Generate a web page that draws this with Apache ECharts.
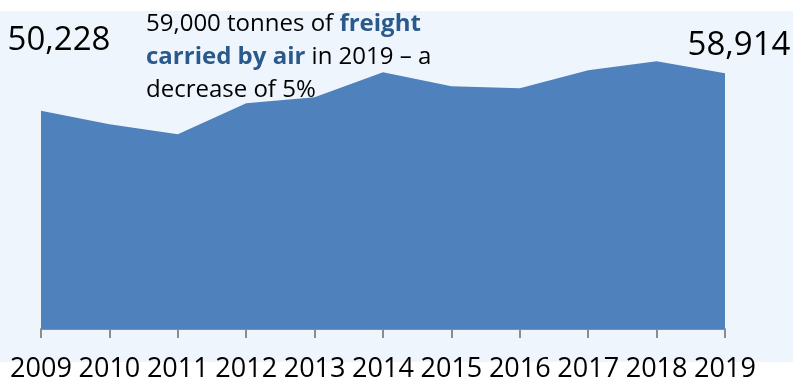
<!DOCTYPE html>
<html>
	<head>
		<meta charset="UTF-8">
		<title>Freight carried by air</title>
		<style>
			html, body { margin: 0; padding: 0; background: #fff; }
			.box { width: 793px; height: 379px; }
		</style>
	</head>
	<body>
		<div class="box"></div>
	</body>
</html>
<script src="https://cdn.jsdelivr.net/npm/echarts@6/dist/echarts.min.js"></script>
<script>
	var years = ['2009', '2010', '2011', '2012', '2013', '2014', '2015', '2016', '2017', '2018', '2019'];
	var freight = [50228, 47150, 44850, 51980, 53360, 59110, 55890, 55430, 59570, 61640, 58914];

	var myChart = echarts.init(document.querySelector('.box'));

	// only first and last points carry a label
	var seriesData = freight.map(function (v, i) {
	    if (i === 0) {
	        return { value: v, label: { show: true, offset: [18, -49] } };
	    }
	    if (i === freight.length - 1) {
	        return { value: v, label: { show: true, offset: [14, -6] } };
	    }
	    return v;
	});

	var option = {
	    animation: false,
	    backgroundColor: '#fff',
	    textStyle: { fontFamily: 'Open Sans' },
	    graphic: [{
	        type: 'rect',
	        z: -10,
	        shape: { x: 0, y: 11, width: 793, height: 351 },
	        style: { fill: '#EEF5FC' }
	    }],
	    title: {
	        left: 146,
	        top: 8,
	        padding: 0,
	        text: '59,000 tonnes of {b|freight}\n{b|carried by air} in 2019 – a\ndecrease of 5%',
	        textStyle: {
	            fontFamily: 'Open Sans',
	            fontWeight: 'normal',
	            fontSize: 24,
	            lineHeight: 33,
	            color: '#000',
	            rich: {
	                b: { fontFamily: 'Open Sans', fontWeight: 'bold', fontSize: 24, lineHeight: 33, color: '#2A5A8C' }
	            }
	        }
	    },
	    grid: { left: 41, right: 68, top: 25, bottom: 50, outerBoundsMode: 'none' },
	    xAxis: {
	        type: 'category',
	        data: years,
	        boundaryGap: false,
	        axisLine: { lineStyle: { color: '#8c8c8c', width: 2 } },
	        axisTick: { length: 9, lineStyle: { color: '#8c8c8c', width: 2 } },
	        axisLabel: { color: '#000', fontSize: 27, margin: 27, fontFamily: 'Open Sans', interval: 0 }
	    },
	    yAxis: {
	        type: 'value',
	        min: 0,
	        max: 70000,
	        show: false,
	        splitLine: { show: false }
	    },
	    series: [{
	        type: 'line',
	        data: seriesData,
	        symbol: 'circle',
	        symbolSize: 0,
	        lineStyle: { width: 0 },
	        areaStyle: { color: '#4F81BD', opacity: 1 },
	        itemStyle: { color: '#4F81BD' },
	        label: {
	            show: false,
	            position: 'top',
	            color: '#000',
	            fontSize: 33,
	            fontFamily: 'Open Sans',
	            formatter: function (p) { return p.value.toLocaleString('en-US'); }
	        }
	    }]
	};
	myChart.setOption(option);
</script>
